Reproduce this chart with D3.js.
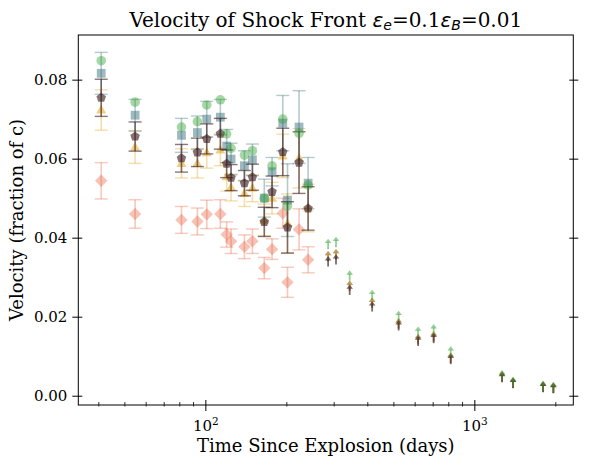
<!DOCTYPE html>
<html><head><meta charset="utf-8">
<script src="https://cdn.jsdelivr.net/npm/d3@7"></script>
<style>body{margin:0;background:#fff}svg{display:block}text{font-family:"DejaVu Serif",serif;fill:#000}</style>
</head><body><svg id="c" width="589" height="467"></svg>
<script>
// ---- data ----
const days = [41, 54.8, 81.5, 93.4, 101.2, 113.7, 120, 124.6, 139.7, 149.6, 165.6, 177, 194, 202, 223, 241];
const circleV = [0.0848, 0.0743, 0.0680, 0.0694, 0.0736, 0.0749, 0.0663, 0.0626, 0.0609, 0.0620, 0.0500, 0.0582, 0.0700, 0.0480, 0.0664, 0.0533];
const squareV = [0.0816, 0.0710, 0.0659, 0.0666, 0.0700, 0.0705, 0.0632, 0.0599, 0.0582, 0.0597, 0.0500, 0.0567, 0.0690, 0.0495, 0.0680, 0.0538];
const squareE = [0.0053, 0.0040, 0.0043, 0.0042, 0.0045, 0.0045, 0.0042, 0.0040, 0.0038, 0.0040, 0.0048, 0.0036, 0.0070, 0.0092, 0.0092, 0.0065];
const pentV = [0.0754, 0.0656, 0.0601, 0.0616, 0.0650, 0.0663, 0.0587, 0.0552, 0.0538, 0.0553, 0.0440, 0.0516, 0.0617, 0.0426, 0.0590, 0.0474];
const pentE = [0.0047, 0.0037, 0.0035, 0.0036, 0.0038, 0.0039, 0.0035, 0.0033, 0.0032, 0.0033, 0.0037, 0.0040, 0.0060, 0.0065, 0.0078, 0.0055];
const triV = [0.0723, 0.0629, 0.0588, 0.0588, 0.0615, 0.0622, 0.0554, 0.0527, 0.0512, 0.0525, 0.0445, 0.0500, 0.0607, 0.0436, 0.0601, 0.0475];
const triE = [0.0051, 0.0041, 0.0037, 0.0037, 0.0039, 0.0040, 0.0036, 0.0034, 0.0033, 0.0034, 0.0040, 0.0040, 0.0055, 0.0075, 0.0075, 0.0060];
const diaV = [0.0544, 0.0460, 0.0445, 0.0441, 0.0459, 0.0460, 0.0408, 0.0391, 0.0377, 0.0391, 0.0323, 0.0371, 0.0462, 0.0287, 0.0421, 0.0344];
const diaE = [0.0046, 0.0036, 0.0034, 0.0034, 0.0036, 0.0036, 0.0032, 0.0031, 0.0030, 0.0031, 0.0027, 0.0026, 0.0038, 0.0038, 0.0052, 0.0033];
// lower limits at late times
const lateDays = [286, 306, 344, 417, 523, 618, 706, 817, 1268, 1393, 1801, 1967];
const greenLim = [0.0371, 0.0376, 0.0291, 0.0242, 0.0189, 0.0149, 0.0155, 0.0099, 0.0039, 0.0022, 0.0012, 0.0009];
const midLim = [0.0340, 0.0345, 0.0265, 0.0222, 0.0170, 0.0130, 0.0137, 0.0083, 0.0036, 0.0020, 0.0010, 0.0007];
const pentLim = [0.0327, 0.0332, 0.0255, 0.0213, 0.0165, 0.0126, 0.0133, 0.0080, 0.0034, 0.0019, 0.0009, 0.0006];
const limLen = 0.002;
const yTicks = [0.00, 0.02, 0.04, 0.06, 0.08];
const xMajor = [100, 1000];
const xMinor = [40, 50, 60, 70, 80, 90, 200, 300, 400, 500, 600, 700, 800, 900, 2000];

// ---- scales ----
const svg = d3.select("#c");
const L = 78.3, R = 573.3, T = 35, B = 405;
const x = d3.scaleLog().domain([33.7, 2333]).range([L, R]);
const y = d3.scaleLinear().domain([-0.00235, 0.0913]).range([B, T]);

const COL = {
  green: "#2ca02c", teal: "#2a6670", gold: "#e0a010", brown: "#3a1c22", salmon: "#e8603f"
};

function shape(type, r) {
  if (type === "circle") return d3.symbol(d3.symbolCircle, Math.PI * r * r)();
  if (type === "square") return `M${-r},${-r}H${r}V${r}H${-r}Z`;
  if (type === "diamond") return `M0,${-r}L${r},0L0,${r}L${-r},0Z`;
  if (type === "triangle") return `M0,${-r*1.05}L${r},${r*0.7}L${-r},${r*0.7}Z`;
  if (type === "pentagon") {
    const pts = d3.range(5).map(i => { const a = -Math.PI/2 + i*2*Math.PI/5; return [r*Math.cos(a), r*Math.sin(a)]; });
    return "M" + pts.map(p => p.join(",")).join("L") + "Z";
  }
}

const plot = svg.append("g");

function errSeries(vals, errs, color, barAlpha, type, r, mAlpha) {
  const g = plot.append("g");
  if (errs) {
    days.forEach((d, i) => {
      const cx = x(d), y0 = y(vals[i] - errs[i]), y1 = y(vals[i] + errs[i]);
      g.append("line").attr("x1", cx).attr("x2", cx).attr("y1", y0).attr("y2", y1)
        .attr("stroke", color).attr("stroke-opacity", barAlpha).attr("stroke-width", 1.6);
      [y0, y1].forEach(yy => g.append("line").attr("x1", cx - 6.5).attr("x2", cx + 6.5).attr("y1", yy).attr("y2", yy)
        .attr("stroke", color).attr("stroke-opacity", barAlpha).attr("stroke-width", 1.4));
    });
  }
  g.selectAll("path.m").data(vals).join("path").attr("class", "m")
    .attr("d", shape(type, r))
    .attr("transform", (v, i) => `translate(${x(days[i])},${y(v)})`)
    .attr("fill", color).attr("fill-opacity", mAlpha);
}

function limSeries(vals, color, alpha) {
  const g = plot.append("g");
  lateDays.forEach((d, i) => {
    const cx = x(d), y0 = y(vals[i]), y1 = y(vals[i] + limLen);
    g.append("line").attr("x1", cx).attr("x2", cx).attr("y1", y0).attr("y2", y1 + 1)
      .attr("stroke", color).attr("stroke-opacity", alpha).attr("stroke-width", 1.8);
    g.append("path").attr("d", `M${cx},${y1 - 2.5}L${cx + 3.3},${y1 + 1.8}L${cx - 3.3},${y1 + 1.8}Z`)
      .attr("fill", color).attr("fill-opacity", alpha);
  });
}

errSeries(diaV, diaE, COL.salmon, 0.35, "diamond", 6.2, 0.38);
errSeries(triV, triE, COL.gold, 0.35, "triangle", 5, 0.5);
errSeries(squareV, squareE, COL.teal, 0.35, "square", 4.4, 0.45);
errSeries(pentV, pentE, COL.brown, 0.6, "pentagon", 5, 0.62);
errSeries(circleV, null, COL.green, 0.4, "circle", 4.8, 0.42);

limSeries(midLim, COL.salmon, 0.4);
limSeries(midLim, COL.teal, 0.4);
limSeries(midLim, COL.gold, 0.45);
limSeries(pentLim, COL.brown, 0.65);
limSeries(greenLim, COL.green, 0.5);

// ---- axes ----
svg.append("rect").attr("x", L).attr("y", T).attr("width", R - L).attr("height", B - T)
  .attr("fill", "none").attr("stroke", "#000").attr("stroke-width", 1);

const yAx = svg.append("g").attr("transform", `translate(${L},0)`)
  .call(d3.axisLeft(y).tickValues(yTicks).tickFormat(d3.format(".2f")).tickSize(6).tickPadding(5));
yAx.select(".domain").remove();
yAx.selectAll(".tick line").attr("x1", 4).attr("stroke", "#000");
yAx.selectAll(".tick text").attr("font-size", 15).attr("font-family", "DejaVu Serif");

const yAxR = svg.append("g").attr("transform", `translate(${R},0)`)
  .call(d3.axisRight(y).tickValues(yTicks).tickFormat("").tickSize(5));
yAxR.select(".domain").remove();
yAxR.selectAll(".tick line").attr("x1", -4).attr("stroke", "#000");

const xAx = svg.append("g").attr("transform", `translate(0,${B})`)
  .call(d3.axisBottom(x).tickValues(xMajor).tickFormat("").tickSize(6));
xAx.select(".domain").remove();
xAx.selectAll(".tick line").attr("y1", -5).attr("stroke", "#000");
xAx.selectAll(".tick").append("text").attr("y", 26).attr("text-anchor", "middle")
  .attr("font-size", 15).attr("font-family", "DejaVu Serif").attr("fill", "#000")
  .each(function(d) {
    const t = d3.select(this);
    t.append("tspan").text("10");
    t.append("tspan").attr("dy", -6.5).attr("font-size", 10.5).text(String(Math.round(Math.log10(d))));
  });
const xMin = svg.append("g").attr("transform", `translate(0,${B})`)
  .call(d3.axisBottom(x).tickValues(xMinor).tickFormat("").tickSize(1.5));
xMin.select(".domain").remove();
xMin.selectAll(".tick line").attr("y1", -3).attr("stroke", "#000").attr("stroke-width", 0.8);

// ---- labels ----
svg.append("text").attr("x", (L + R) / 2).attr("y", 452).attr("text-anchor", "middle")
  .attr("font-size", 18).text("Time Since Explosion (days)");
svg.append("text").attr("transform", `translate(23,${(T + B) / 2}) rotate(-90)`).attr("text-anchor", "middle")
  .attr("font-size", 18).text("Velocity (fraction of c)");

const title = svg.append("text").attr("x", (L + R) / 2).attr("y", 27).attr("text-anchor", "middle").attr("font-size", 20);
title.append("tspan").text("Velocity of Shock Front ");
const mi = (txt) => title.append("tspan").attr("font-family", "DejaVu Sans").attr("font-style", "italic").text(txt);
mi("ε");
title.append("tspan").attr("font-family", "DejaVu Sans").attr("font-style", "italic").attr("font-size", 14).attr("dy", 3).text("e");
title.append("tspan").attr("dy", -3).text("=0.1");
mi("ε");
title.append("tspan").attr("font-family", "DejaVu Sans").attr("font-style", "italic").attr("font-size", 14).attr("dy", 3).text("B");
title.append("tspan").attr("dy", -3).text("=0.01");
</script></body></html>
